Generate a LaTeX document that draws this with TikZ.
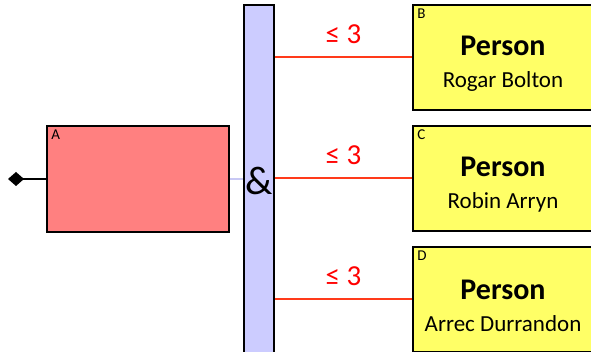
\documentclass[tikz,border=0pt]{standalone}
\usepackage{fontspec}
\setmainfont{Carlito}
\usetikzlibrary{arrows.meta,positioning}
\definecolor{RoleRed}{HTML}{FF8080}
\definecolor{PersonYellow}{HTML}{FFFF66}
\definecolor{AndBlue}{HTML}{CCCCFF}
\definecolor{LinkBlue}{HTML}{C8C8F4}
\definecolor{LinkRed}{HTML}{FF3A1A}
\newcommand{\persontext}[1]{\rule{0pt}{32pt}{\bfseries\fontsize{30}{32}\selectfont Person}\\#1}
\begin{document}
\begin{tikzpicture}[x=1pt,y=1pt,node distance=14.5pt,>=Latex]
\tikzstyle{entity}=[rectangle,draw=black,line width=1.5pt,fill=PersonYellow,minimum width=180pt,minimum height=105pt,inner sep=0pt,align=center,font=\fontsize{23}{32}\selectfont]
\tikzstyle{tag}=[font=\fontsize{15}{15}\selectfont,anchor=north west,inner xsep=5pt,inner ysep=4pt]
\tikzstyle{rel}=[LinkRed,line width=2pt]
\tikzstyle{lbl}=[text=red,font=\fontsize{29}{29}\selectfont,inner sep=0pt,above=13pt]
\useasboundingbox (0,0) rectangle (591,-352);
\node[rectangle,draw=black,line width=1.5pt,fill=AndBlue,minimum width=30pt,minimum height=351pt,inner sep=0pt] (and) at (259,-180.5) {\fontsize{40}{40}\selectfont\&};
\node[rectangle,draw=black,line width=1.5pt,fill=RoleRed,minimum width=182pt,minimum height=106pt,label={[tag]north west:A}] (a) at (138,-179) {};
\node[entity,label={[tag]north west:B}] (b) at (503,-57.5) {\persontext{Rogar Bolton}};
\node[entity,label={[tag]north west:C},below=of b] (c) {\persontext{Robin Arryn}};
\node[entity,label={[tag]north west:D},below=of c] (d) {\persontext{Arrec Durrandon}};
\coordinate (dia) at (8,-179);
\draw[line width=1.5pt,{Diamond[length=16pt,width=14pt]}-] (dia) -- (a.west);
\draw[LinkBlue,line width=1.5pt] (a.east) -- (and.west |- a.east);
\draw[rel] (and.east |- b.west) -- node[lbl,midway]{≤ 3} (b.west);
\draw[rel] (and.east |- c.west) -- node[lbl,midway]{≤ 3} (c.west);
\draw[rel] (and.east |- d.west) -- node[lbl,midway]{≤ 3} (d.west);
\end{tikzpicture}
\end{document}
